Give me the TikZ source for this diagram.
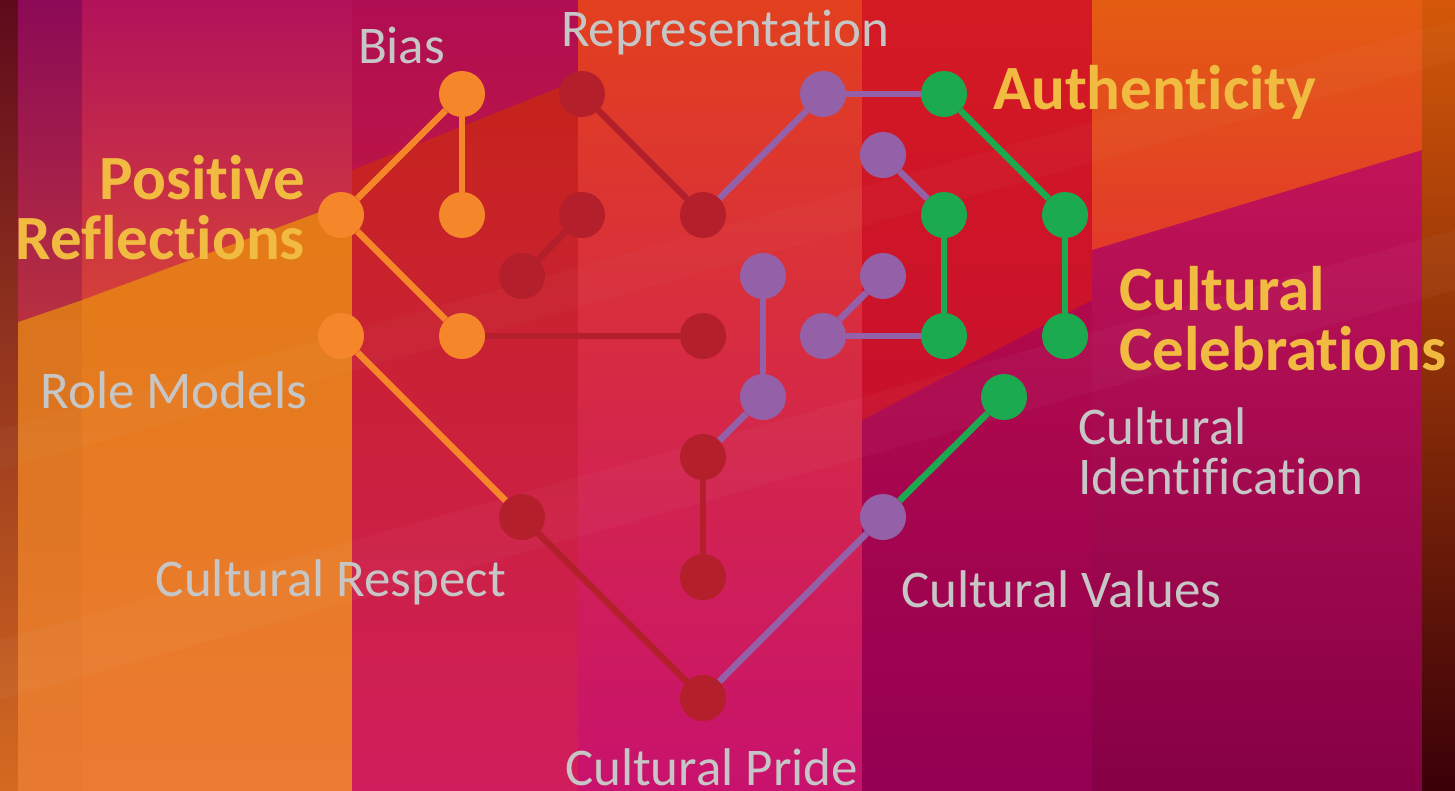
\documentclass[tikz,border=0pt]{standalone}
\usepackage{fontspec}
\setmainfont{Carlito}[Ligatures={NoCommon,NoContextual}]
\begin{document}
% node and connector colours
\definecolor{cOrange}{HTML}{F5862A}
\definecolor{cRed}{HTML}{B31F2B}
\definecolor{cPurple}{HTML}{9461A9}
\definecolor{cGreen}{HTML}{1CAA50}
\definecolor{cGray}{HTML}{C6C6C6}
\definecolor{cGold}{HTML}{F0BB40}
\begin{tikzpicture}[x=1pt,y=-1pt,
  dot/.style={circle,minimum size=46pt,inner sep=0pt,draw=none},
  link/.style={line width=6.5pt},
  lbl/.style={inner sep=0pt,outer sep=0pt,text=cGray,font=\fontsize{53}{53}\selectfont},
  head/.style={inner sep=0pt,outer sep=0pt,text=cGold,font=\fontsize{63}{63}\selectfont\bfseries}]
\useasboundingbox (0,0) rectangle (1455,790);

% ---------- backdrop: vertical colour bands ----------
% far left strip
\shade[top color={rgb,255:red,94;green,10;blue,28},middle color={rgb,255:red,142;green,50;blue,18},bottom color={rgb,255:red,212;green,106;blue,32}] (0,0) rectangle (18,790);
% left band
\shade[top color={rgb,255:red,208;green,112;blue,16},bottom color={rgb,255:red,232;green,122;blue,48}] (18,0) rectangle (82,790);
\shade[top color={rgb,255:red,140;green,10;blue,86},bottom color={rgb,255:red,184;green,48;blue,64}] (18,0) -- (82,0) -- (82,300) -- (18,322) -- cycle;
% orange band
\shade[top color={rgb,255:red,224;green,122;blue,12},bottom color={rgb,255:red,236;green,122;blue,50}] (82,0) rectangle (352,790);
\shade[top color={rgb,255:red,178;green,18;blue,90},bottom color={rgb,255:red,212;green,64;blue,58}] (82,0) -- (352,0) -- (352,200) -- (82,300) -- cycle;
% red-pink band
\shade[top color={rgb,255:red,196;green,36;blue,20},middle color={rgb,255:red,216;green,40;blue,70},bottom color={rgb,255:red,208;green,30;blue,92}] (352,0) rectangle (578,790);
\shade[top color={rgb,255:red,176;green,14;blue,82},bottom color={rgb,255:red,186;green,20;blue,72}] (352,0) -- (578,0) -- (578,80) -- (352,170) -- cycle;
% central band
\shade[top color={rgb,255:red,226;green,64;blue,30},middle color={rgb,255:red,232;green,44;blue,74},bottom color={rgb,255:red,200;green,18;blue,110}] (578,0) rectangle (862,790);
% crimson band
\shade[top color={rgb,255:red,196;green,16;blue,72},bottom color={rgb,255:red,148;green,0;blue,82}] (862,0) rectangle (1092,790);
\shade[top color={rgb,255:red,212;green,26;blue,34},bottom color={rgb,255:red,200;green,16;blue,44}] (862,0) -- (1092,0) -- (1092,300) -- (862,420) -- cycle;
% right band
\shade[top color={rgb,255:red,208;green,24;blue,92},bottom color={rgb,255:red,134;green,0;blue,70}] (1092,0) rectangle (1422,790);
\shade[top color={rgb,255:red,228;green,92;blue,18},bottom color={rgb,255:red,226;green,58;blue,42}] (1092,0) -- (1422,0) -- (1422,150) -- (1092,250) -- cycle;
% far right strip
\shade[top color={rgb,255:red,212;green,88;blue,8},middle color={rgb,255:red,144;green,32;blue,16},bottom color={rgb,255:red,58;green,0;blue,8}] (1422,0) rectangle (1455,790);
% faint light streaks
\fill[white,opacity=0.03] (0,640) -- (1455,230) -- (1455,290) -- (0,700) -- cycle;
\fill[white,opacity=0.025] (0,430) -- (1455,20) -- (1455,60) -- (0,470) -- cycle;

% ---------- nodes ----------
\node[dot,fill=cOrange] (o1) at (462,94)  {};
\node[dot,fill=cOrange] (o2) at (462,215) {};
\node[dot,fill=cOrange] (o3) at (341,215) {};
\node[dot,fill=cOrange] (o4) at (341,336) {};
\node[dot,fill=cOrange] (o5) at (462,336) {};

\node[dot,fill=cRed] (r1) at (582,94)  {};
\node[dot,fill=cRed] (r2) at (703,215) {};
\node[dot,fill=cRed] (r3) at (582,215) {};
\node[dot,fill=cRed] (r4) at (522,276) {};
\node[dot,fill=cRed] (r5) at (703,336) {};
\node[dot,fill=cRed] (r6) at (703,457) {};
\node[dot,fill=cRed] (r7) at (703,577) {};
\node[dot,fill=cRed] (r8) at (522,517) {};
\node[dot,fill=cRed] (r9) at (703,698) {};

\node[dot,fill=cPurple] (p1) at (823,94)  {};
\node[dot,fill=cPurple] (p2) at (883,155) {};
\node[dot,fill=cPurple] (p3) at (763,276) {};
\node[dot,fill=cPurple] (p4) at (883,276) {};
\node[dot,fill=cPurple] (p5) at (823,336) {};
\node[dot,fill=cPurple] (p6) at (763,397) {};
\node[dot,fill=cPurple] (p7) at (883,517) {};

\node[dot,fill=cGreen] (g1) at (944,94)   {};
\node[dot,fill=cGreen] (g2) at (944,215)  {};
\node[dot,fill=cGreen] (g3) at (1065,215) {};
\node[dot,fill=cGreen] (g4) at (944,336)  {};
\node[dot,fill=cGreen] (g5) at (1065,336) {};
\node[dot,fill=cGreen] (g6) at (1004,397) {};

% ---------- connectors ----------
\draw[link,cOrange] (o1) -- (o3);
\draw[link,cOrange] (o1) -- (o2);
\draw[link,cOrange] (o3) -- (o5);
\draw[link,cOrange] (o4) -- (r8);

\draw[link,cRed] (o5) -- (r5);
\draw[link,cRed] (r1) -- (r2);
\draw[link,cRed] (r3) -- (r4);
\draw[link,cRed] (r6) -- (r7);
\draw[link,cRed] (r8) -- (r9);

\draw[link,cPurple] (r2) -- (p1);
\draw[link,cPurple] (p1) -- (g1);
\draw[link,cPurple] (p2) -- (g2);
\draw[link,cPurple] (p4) -- (p5);
\draw[link,cPurple] (p5) -- (g4);
\draw[link,cPurple] (p3) -- (p6);
\draw[link,cPurple] (p6) -- (r6);
\draw[link,cPurple] (r9) -- (p7);

\draw[link,cGreen] (g1) -- (g3);
\draw[link,cGreen] (g3) -- (g5);
\draw[link,cGreen] (g2) -- (g4);
\draw[link,cGreen] (p7) -- (g6);

% ---------- labels ----------
\node[lbl,anchor=base west] (tBias) at (358,63) {Bias};
\node[lbl,anchor=base west] (tRep) at (561,46) {Representation};
\node[head,anchor=base west] (tAuth) at (993,109) {Authenticity};
\node[head,anchor=base east] (tPos1) at (305,199) {Positive};
\node[head,anchor=base east] (tPos2) at (305,259) {Reflections};
\node[head,anchor=base west] (tCel1) at (1119,310) {Cultural};
\node[head,anchor=base west] (tCel2) at (1119,370) {Celebrations};
\node[lbl,anchor=base east] (tRole) at (307,408) {Role Models};
\node[lbl,anchor=base west] (tId1) at (1078,444) {Cultural};
\node[lbl,anchor=base west] (tId2) at (1078,494) {Identification};
\node[lbl,anchor=base east] (tResp) at (506,596) {Cultural Respect};
\node[lbl,anchor=base west] (tVal) at (901,607) {Cultural Values};
\node[lbl,anchor=base west] (tPride) at (565,785) {Cultural Pride};
\end{tikzpicture}
\end{document}
